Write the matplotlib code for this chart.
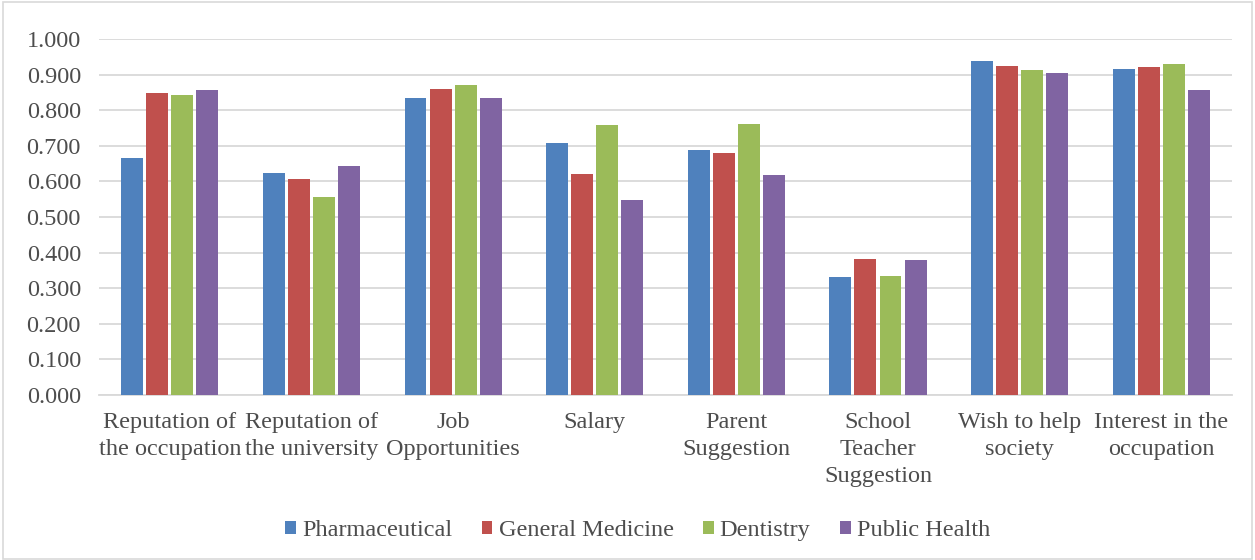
import matplotlib.pyplot as plt
from matplotlib.patches import Rectangle
import numpy as np

categories = ["Reputation of\nthe occupation", "Reputation of\nthe university", "Job\nOpportunities",
              "Salary", "Parent\nSuggestion", "School\nTeacher\nSuggestion",
              "Wish to help\nsociety", "Interest in the\noccupation"]
series_names = ["Pharmaceutical", "General Medicine", "Dentistry", "Public Health"]
pharmaceutical = [0.667, 0.624, 0.833, 0.707, 0.687, 0.332, 0.937, 0.916]
general_medicine = [0.848, 0.606, 0.859, 0.621, 0.681, 0.383, 0.923, 0.920]
dentistry = [0.843, 0.555, 0.872, 0.757, 0.762, 0.334, 0.913, 0.931]
public_health = [0.856, 0.642, 0.833, 0.547, 0.619, 0.380, 0.904, 0.856]
colors = ["#4F81BD", "#C0504D", "#9BBB59", "#8064A2"]

plt.rcParams['font.family'] = ['Liberation Serif', 'DejaVu Serif']
text_color = '#4d4d4d'

fig = plt.figure(figsize=(12.55, 5.6), dpi=100)
ax = fig.add_axes([0.0789, 0.2946, 0.9028, 0.6358])

x = np.arange(len(categories))
width = 0.155
step = 0.177
all_series = [pharmaceutical, general_medicine, dentistry, public_health]
for i, (vals, name, c) in enumerate(zip(all_series, series_names, colors)):
    ax.bar(x + (i - 1.5) * step, vals, width, color=c, label=name, zorder=3)

ax.set_xlim(-0.5, len(categories) - 0.5)
ax.set_ylim(0, 1.0)
ax.set_yticks(np.arange(0, 1.01, 0.1))
ax.set_yticklabels(["%.3f" % v for v in np.arange(0, 1.01, 0.1)])
ax.set_xticks(x)
ax.set_xticklabels(categories, linespacing=1.4)
ax.tick_params(axis='both', length=0, labelsize=17.5, colors=text_color)
ax.tick_params(axis='y', pad=13)
ax.tick_params(axis='x', pad=12)
ax.grid(axis='y', color='#d9d9d9', linewidth=1.3, zorder=0)
for s in ['top', 'right', 'left']:
    ax.spines[s].set_visible(False)
ax.spines['bottom'].set_color('#d9d9d9')
ax.spines['bottom'].set_linewidth(1.3)

leg = fig.legend(loc='center', bbox_to_anchor=(0.508, 0.053), ncol=4, frameon=False,
                 fontsize=17.5, handlelength=0.45, handleheight=0.45, handletextpad=0.25,
                 columnspacing=1.2)
for t in leg.get_texts():
    t.set_color(text_color)

fig.patches.append(Rectangle((0.002, 0.002), 0.996, 0.995, transform=fig.transFigure,
                             fill=False, edgecolor='#d9d9d9', linewidth=1.2))

fig.savefig("out.png", dpi=100)
